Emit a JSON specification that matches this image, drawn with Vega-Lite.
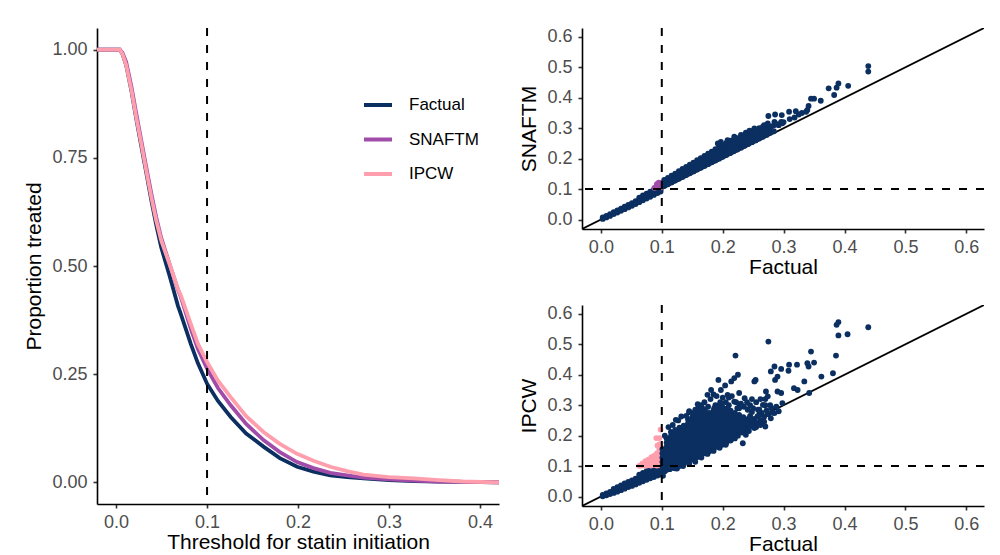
{
"$schema": "https://vega.github.io/schema/vega-lite/v6.json",
"background": "white",
"padding": {"left": 23, "top": 27, "right": 0, "bottom": 0},
"spacing": 19,
"config": {
  "view": {"stroke": null},
  "font": "Liberation Sans",
  "axis": {"domainColor": "black", "domainWidth": 1.6, "tickColor": "#333333", "tickWidth": 1.6, "tickSize": 4, "labelPadding": 6, "labelFont": "Liberation Sans", "labelFontSize": 18, "labelColor": "#4d4d4d", "labelOverlap": false, "titleFont": "Liberation Sans", "titleFontSize": 21, "titleFontWeight": "normal", "titleColor": "black", "grid": false},
  "axisX": {"titlePadding": 0, "labelPadding": 5},
  "axisY": {"titlePadding": 7}
},
"datasets": {
  "curves": [
    {"t":-0.021,"p":1,"m":"Factual"},{"t":0.004,"p":1,"m":"Factual"},{"t":0.007,"p":0.99,"m":"Factual"},{"t":0.011,"p":0.965,"m":"Factual"},{"t":0.0168,"p":0.905,"m":"Factual"},{"t":0.0222,"p":0.84,"m":"Factual"},{"t":0.0277,"p":0.777,"m":"Factual"},{"t":0.0332,"p":0.715,"m":"Factual"},{"t":0.0387,"p":0.652,"m":"Factual"},{"t":0.0441,"p":0.595,"m":"Factual"},{"t":0.0496,"p":0.543,"m":"Factual"},{"t":0.0587,"p":0.478,"m":"Factual"},{"t":0.068,"p":0.408,"m":"Factual"},{"t":0.0712,"p":0.389,"m":"Factual"},{"t":0.0821,"p":0.32,"m":"Factual"},{"t":0.09,"p":0.275,"m":"Factual"},{"t":0.1,"p":0.228,"m":"Factual"},{"t":0.112,"p":0.188,"m":"Factual"},{"t":0.126,"p":0.151,"m":"Factual"},{"t":0.143,"p":0.113,"m":"Factual"},{"t":0.1624,"p":0.082,"m":"Factual"},{"t":0.18,"p":0.056,"m":"Factual"},{"t":0.199,"p":0.036,"m":"Factual"},{"t":0.217,"p":0.025,"m":"Factual"},{"t":0.2355,"p":0.016,"m":"Factual"},{"t":0.254,"p":0.012,"m":"Factual"},{"t":0.272,"p":0.009,"m":"Factual"},{"t":0.3,"p":0.005,"m":"Factual"},{"t":0.327,"p":0.003,"m":"Factual"},{"t":0.355,"p":0.002,"m":"Factual"},{"t":0.381,"p":0.001,"m":"Factual"},{"t":0.421,"p":0,"m":"Factual"},
    {"t":-0.021,"p":1,"m":"SNAFTM"},{"t":0.004,"p":1,"m":"SNAFTM"},{"t":0.007,"p":0.993,"m":"SNAFTM"},{"t":0.011,"p":0.972,"m":"SNAFTM"},{"t":0.0168,"p":0.915,"m":"SNAFTM"},{"t":0.0222,"p":0.852,"m":"SNAFTM"},{"t":0.0277,"p":0.79,"m":"SNAFTM"},{"t":0.0332,"p":0.728,"m":"SNAFTM"},{"t":0.0387,"p":0.668,"m":"SNAFTM"},{"t":0.0441,"p":0.613,"m":"SNAFTM"},{"t":0.0496,"p":0.565,"m":"SNAFTM"},{"t":0.0587,"p":0.505,"m":"SNAFTM"},{"t":0.068,"p":0.445,"m":"SNAFTM"},{"t":0.0712,"p":0.428,"m":"SNAFTM"},{"t":0.0821,"p":0.355,"m":"SNAFTM"},{"t":0.09,"p":0.308,"m":"SNAFTM"},{"t":0.1,"p":0.263,"m":"SNAFTM"},{"t":0.112,"p":0.218,"m":"SNAFTM"},{"t":0.126,"p":0.178,"m":"SNAFTM"},{"t":0.143,"p":0.135,"m":"SNAFTM"},{"t":0.1624,"p":0.097,"m":"SNAFTM"},{"t":0.18,"p":0.07,"m":"SNAFTM"},{"t":0.199,"p":0.047,"m":"SNAFTM"},{"t":0.217,"p":0.033,"m":"SNAFTM"},{"t":0.2355,"p":0.022,"m":"SNAFTM"},{"t":0.254,"p":0.016,"m":"SNAFTM"},{"t":0.272,"p":0.011,"m":"SNAFTM"},{"t":0.3,"p":0.007,"m":"SNAFTM"},{"t":0.327,"p":0.004,"m":"SNAFTM"},{"t":0.355,"p":0.002,"m":"SNAFTM"},{"t":0.381,"p":0.001,"m":"SNAFTM"},{"t":0.421,"p":0,"m":"SNAFTM"},
    {"t":-0.021,"p":1,"m":"IPCW"},{"t":0.004,"p":1,"m":"IPCW"},{"t":0.007,"p":0.99,"m":"IPCW"},{"t":0.011,"p":0.965,"m":"IPCW"},{"t":0.0168,"p":0.907,"m":"IPCW"},{"t":0.0222,"p":0.843,"m":"IPCW"},{"t":0.0277,"p":0.782,"m":"IPCW"},{"t":0.0332,"p":0.72,"m":"IPCW"},{"t":0.0387,"p":0.659,"m":"IPCW"},{"t":0.0441,"p":0.605,"m":"IPCW"},{"t":0.0496,"p":0.559,"m":"IPCW"},{"t":0.0587,"p":0.505,"m":"IPCW"},{"t":0.068,"p":0.447,"m":"IPCW"},{"t":0.0712,"p":0.432,"m":"IPCW"},{"t":0.0821,"p":0.366,"m":"IPCW"},{"t":0.09,"p":0.32,"m":"IPCW"},{"t":0.1,"p":0.278,"m":"IPCW"},{"t":0.112,"p":0.235,"m":"IPCW"},{"t":0.126,"p":0.197,"m":"IPCW"},{"t":0.143,"p":0.153,"m":"IPCW"},{"t":0.1624,"p":0.116,"m":"IPCW"},{"t":0.18,"p":0.089,"m":"IPCW"},{"t":0.199,"p":0.066,"m":"IPCW"},{"t":0.217,"p":0.05,"m":"IPCW"},{"t":0.2355,"p":0.036,"m":"IPCW"},{"t":0.254,"p":0.026,"m":"IPCW"},{"t":0.272,"p":0.018,"m":"IPCW"},{"t":0.3,"p":0.012,"m":"IPCW"},{"t":0.327,"p":0.009,"m":"IPCW"},{"t":0.355,"p":0.005,"m":"IPCW"},{"t":0.381,"p":0.002,"m":"IPCW"},{"t":0.421,"p":0,"m":"IPCW"}
  ],
  "snaftm": [
    {"f":0.003,"v":0.002},{"f":0.003,"v":0.007},{"f":0.009,"v":0.007},{"f":0.009,"v":0.012},{"f":0.015,"v":0.012},{"f":0.015,"v":0.018},{"f":0.021,"v":0.018},{"f":0.021,"v":0.024},{"f":0.027,"v":0.023},{"f":0.027,"v":0.03},{"f":0.033,"v":0.029},{"f":0.033,"v":0.036},{"f":0.039,"v":0.034},{"f":0.039,"v":0.042},{"f":0.045,"v":0.04},{"f":0.045,"v":0.048},{"f":0.051,"v":0.045},{"f":0.051,"v":0.054},{"f":0.057,"v":0.051},{"f":0.057,"v":0.06},{"f":0.063,"v":0.057},{"f":0.063,"v":0.066},{"f":0.063,"v":0.072},{"f":0.069,"v":0.063},{"f":0.069,"v":0.072},{"f":0.069,"v":0.079},{"f":0.075,"v":0.069},{"f":0.075,"v":0.078},{"f":0.075,"v":0.085},{"f":0.081,"v":0.075},{"f":0.081,"v":0.084},{"f":0.081,"v":0.092},{"f":0.087,"v":0.081},{"f":0.087,"v":0.09},{"f":0.087,"v":0.098},{"f":0.093,"v":0.087},{"f":0.093,"v":0.095},{"f":0.093,"v":0.099},{"f":0.098,"v":0.092},{"f":0.098,"v":0.099},
    {"f":0.088,"v":0.104},{"f":0.091,"v":0.108},{"f":0.094,"v":0.111},{"f":0.097,"v":0.115},{"f":0.099,"v":0.12},{"f":0.092,"v":0.116},{"f":0.096,"v":0.107},{"f":0.099,"v":0.106},{"f":0.095,"v":0.121},
    {"f":0.104,"v":0.11},{"f":0.104,"v":0.12},{"f":0.104,"v":0.13},{"f":0.11,"v":0.116},{"f":0.11,"v":0.126},{"f":0.11,"v":0.137},{"f":0.116,"v":0.122},{"f":0.116,"v":0.133},{"f":0.116,"v":0.144},{"f":0.122,"v":0.128},{"f":0.122,"v":0.139},{"f":0.122,"v":0.151},{"f":0.128,"v":0.134},{"f":0.128,"v":0.146},{"f":0.128,"v":0.159},{"f":0.134,"v":0.14},{"f":0.134,"v":0.153},{"f":0.134,"v":0.166},{"f":0.14,"v":0.146},{"f":0.14,"v":0.159},{"f":0.14,"v":0.173},{"f":0.146,"v":0.152},{"f":0.146,"v":0.166},{"f":0.146,"v":0.18},{"f":0.152,"v":0.158},{"f":0.152,"v":0.172},{"f":0.152,"v":0.187},{"f":0.158,"v":0.164},{"f":0.158,"v":0.179},{"f":0.158,"v":0.195},
    {"f":0.164,"v":0.17},{"f":0.164,"v":0.181},{"f":0.164,"v":0.192},{"f":0.164,"v":0.202},{"f":0.17,"v":0.176},{"f":0.17,"v":0.187},{"f":0.17,"v":0.198},{"f":0.17,"v":0.209},{"f":0.176,"v":0.182},{"f":0.176,"v":0.193},{"f":0.176,"v":0.205},{"f":0.176,"v":0.216},{"f":0.182,"v":0.188},{"f":0.182,"v":0.2},{"f":0.182,"v":0.211},{"f":0.182,"v":0.223},{"f":0.188,"v":0.194},{"f":0.188,"v":0.206},{"f":0.188,"v":0.218},{"f":0.188,"v":0.231},{"f":0.194,"v":0.2},{"f":0.194,"v":0.213},{"f":0.194,"v":0.225},{"f":0.194,"v":0.238},{"f":0.2,"v":0.206},{"f":0.2,"v":0.219},{"f":0.2,"v":0.232},{"f":0.2,"v":0.245},{"f":0.206,"v":0.212},{"f":0.206,"v":0.225},{"f":0.206,"v":0.239},{"f":0.206,"v":0.252},{"f":0.212,"v":0.218},{"f":0.212,"v":0.232},{"f":0.212,"v":0.245},{"f":0.212,"v":0.259},{"f":0.218,"v":0.224},{"f":0.218,"v":0.237},{"f":0.218,"v":0.25},{"f":0.218,"v":0.262},{"f":0.224,"v":0.23},{"f":0.224,"v":0.242},{"f":0.224,"v":0.255},{"f":0.224,"v":0.267},{"f":0.23,"v":0.236},{"f":0.23,"v":0.248},{"f":0.23,"v":0.26},{"f":0.23,"v":0.272},{"f":0.236,"v":0.242},{"f":0.236,"v":0.254},{"f":0.236,"v":0.266},{"f":0.236,"v":0.278},{"f":0.242,"v":0.248},{"f":0.242,"v":0.26},{"f":0.242,"v":0.272},{"f":0.242,"v":0.284},{"f":0.248,"v":0.254},{"f":0.248,"v":0.266},{"f":0.248,"v":0.278},{"f":0.248,"v":0.29},
    {"f":0.254,"v":0.26},{"f":0.254,"v":0.277},{"f":0.254,"v":0.294},{"f":0.26,"v":0.266},{"f":0.26,"v":0.283},{"f":0.26,"v":0.3},{"f":0.266,"v":0.272},{"f":0.266,"v":0.288},{"f":0.266,"v":0.305},{"f":0.272,"v":0.278},{"f":0.272,"v":0.294},{"f":0.272,"v":0.31},{"f":0.278,"v":0.285},{"f":0.278,"v":0.301},{"f":0.284,"v":0.29},{"f":0.284,"v":0.31},{"f":0.292,"v":0.31},{"f":0.3,"v":0.32},{"f":0.31,"v":0.33},{"f":0.318,"v":0.335},{"f":0.325,"v":0.345},{"f":0.33,"v":0.35},
    {"f":0.439,"v":0.504},{"f":0.439,"v":0.486},{"f":0.406,"v":0.439},{"f":0.39,"v":0.447},{"f":0.387,"v":0.433},{"f":0.383,"v":0.409},{"f":0.374,"v":0.431},{"f":0.361,"v":0.39},{"f":0.35,"v":0.397},{"f":0.345,"v":0.397},{"f":0.341,"v":0.373},{"f":0.339,"v":0.36},{"f":0.337,"v":0.354},{"f":0.32,"v":0.356},{"f":0.309,"v":0.354},{"f":0.297,"v":0.343},{"f":0.296,"v":0.321},{"f":0.286,"v":0.345},{"f":0.275,"v":0.34},{"f":0.285,"v":0.321},{"f":0.289,"v":0.313},{"f":0.279,"v":0.305},{"f":0.271,"v":0.294},{"f":0.263,"v":0.288},{"f":0.257,"v":0.294},{"f":0.255,"v":0.277},{"f":0.252,"v":0.299},{"f":0.274,"v":0.316},{"f":0.298,"v":0.316},{"f":0.268,"v":0.31},{"f":0.238,"v":0.285},{"f":0.244,"v":0.292},{"f":0.23,"v":0.278},{"f":0.219,"v":0.272},{"f":0.208,"v":0.261},{"f":0.197,"v":0.255},{"f":0.192,"v":0.25}
  ],
  "ipcw": [
    {"f":0.003,"v":0.001},{"f":0.003,"v":0.005},{"f":0.009,"v":0.004},{"f":0.009,"v":0.01},{"f":0.015,"v":0.008},{"f":0.015,"v":0.015},{"f":0.021,"v":0.012},{"f":0.021,"v":0.019},{"f":0.021,"v":0.025},{"f":0.027,"v":0.016},{"f":0.027,"v":0.024},{"f":0.027,"v":0.031},{"f":0.033,"v":0.021},{"f":0.033,"v":0.029},{"f":0.033,"v":0.037},{"f":0.039,"v":0.026},{"f":0.039,"v":0.034},{"f":0.039,"v":0.043},{"f":0.045,"v":0.031},{"f":0.045,"v":0.039},{"f":0.045,"v":0.048},{"f":0.051,"v":0.035},{"f":0.051,"v":0.044},{"f":0.051,"v":0.053},{"f":0.057,"v":0.04},{"f":0.057,"v":0.049},{"f":0.057,"v":0.059},{"f":0.063,"v":0.045},{"f":0.063,"v":0.054},{"f":0.063,"v":0.064},{"f":0.063,"v":0.072},{"f":0.069,"v":0.05},{"f":0.069,"v":0.059},{"f":0.069,"v":0.069},{"f":0.069,"v":0.078},{"f":0.075,"v":0.055},{"f":0.075,"v":0.064},{"f":0.075,"v":0.074},{"f":0.075,"v":0.083},{"f":0.081,"v":0.06},{"f":0.081,"v":0.069},{"f":0.081,"v":0.079},{"f":0.081,"v":0.089},{"f":0.087,"v":0.064},{"f":0.087,"v":0.074},{"f":0.087,"v":0.084},{"f":0.087,"v":0.094},{"f":0.093,"v":0.069},{"f":0.093,"v":0.079},{"f":0.093,"v":0.089},{"f":0.093,"v":0.097},{"f":0.098,"v":0.073},{"f":0.098,"v":0.083},{"f":0.098,"v":0.092},{"f":0.098,"v":0.098},
    {"f":0.063,"v":0.101},{"f":0.067,"v":0.102},{"f":0.068,"v":0.108},{"f":0.072,"v":0.101},{"f":0.072,"v":0.11},{"f":0.073,"v":0.116},{"f":0.077,"v":0.103},{"f":0.077,"v":0.113},{"f":0.078,"v":0.121},{"f":0.082,"v":0.102},{"f":0.082,"v":0.112},{"f":0.082,"v":0.122},{"f":0.083,"v":0.129},{"f":0.087,"v":0.104},{"f":0.087,"v":0.114},{"f":0.087,"v":0.124},{"f":0.088,"v":0.134},{"f":0.092,"v":0.102},{"f":0.092,"v":0.112},{"f":0.092,"v":0.122},{"f":0.092,"v":0.132},{"f":0.092,"v":0.142},{"f":0.096,"v":0.105},{"f":0.096,"v":0.115},{"f":0.096,"v":0.125},{"f":0.096,"v":0.135},{"f":0.096,"v":0.145},{"f":0.096,"v":0.155},{"f":0.099,"v":0.102},{"f":0.099,"v":0.112},{"f":0.099,"v":0.122},{"f":0.099,"v":0.132},{"f":0.099,"v":0.142},{"f":0.099,"v":0.152},{"f":0.099,"v":0.162},{"f":0.091,"v":0.192},{"f":0.096,"v":0.192},{"f":0.098,"v":0.22},{"f":0.093,"v":0.168},{"f":0.097,"v":0.172},
    {"f":0.101,"v":0.086},{"f":0.105,"v":0.083},{"f":0.108,"v":0.088},{"f":0.113,"v":0.09},{"f":0.118,"v":0.094},{"f":0.125,"v":0.092},{"f":0.102,"v":0.068},
    {"f":0.101,"v":0.1},{"f":0.101,"v":0.114},{"f":0.101,"v":0.128},{"f":0.101,"v":0.142},{"f":0.101,"v":0.156},
    {"f":0.108,"v":0.093},{"f":0.108,"v":0.107},{"f":0.108,"v":0.121},{"f":0.108,"v":0.135},{"f":0.108,"v":0.149},{"f":0.108,"v":0.163},{"f":0.108,"v":0.177},{"f":0.108,"v":0.191},
    {"f":0.115,"v":0.1},{"f":0.115,"v":0.114},{"f":0.115,"v":0.128},{"f":0.115,"v":0.142},{"f":0.115,"v":0.156},{"f":0.115,"v":0.17},{"f":0.115,"v":0.184},{"f":0.115,"v":0.198},{"f":0.115,"v":0.212},
    {"f":0.122,"v":0.093},{"f":0.122,"v":0.107},{"f":0.122,"v":0.121},{"f":0.122,"v":0.135},{"f":0.122,"v":0.149},{"f":0.122,"v":0.163},{"f":0.122,"v":0.177},{"f":0.122,"v":0.191},{"f":0.122,"v":0.205},{"f":0.122,"v":0.219},
    {"f":0.129,"v":0.1},{"f":0.129,"v":0.114},{"f":0.129,"v":0.128},{"f":0.129,"v":0.142},{"f":0.129,"v":0.156},{"f":0.129,"v":0.17},{"f":0.129,"v":0.184},{"f":0.129,"v":0.198},{"f":0.129,"v":0.212},{"f":0.129,"v":0.226},
    {"f":0.136,"v":0.107},{"f":0.136,"v":0.121},{"f":0.136,"v":0.135},{"f":0.136,"v":0.149},{"f":0.136,"v":0.163},{"f":0.136,"v":0.177},{"f":0.136,"v":0.191},{"f":0.136,"v":0.205},{"f":0.136,"v":0.219},{"f":0.136,"v":0.233},
    {"f":0.143,"v":0.114},{"f":0.143,"v":0.128},{"f":0.143,"v":0.142},{"f":0.143,"v":0.156},{"f":0.143,"v":0.17},{"f":0.143,"v":0.184},{"f":0.143,"v":0.198},{"f":0.143,"v":0.212},{"f":0.143,"v":0.226},{"f":0.143,"v":0.24},{"f":0.143,"v":0.254},
    {"f":0.15,"v":0.121},{"f":0.15,"v":0.135},{"f":0.15,"v":0.149},{"f":0.15,"v":0.163},{"f":0.15,"v":0.177},{"f":0.15,"v":0.191},{"f":0.15,"v":0.205},{"f":0.15,"v":0.219},{"f":0.15,"v":0.233},{"f":0.15,"v":0.247},{"f":0.15,"v":0.261},
    {"f":0.157,"v":0.128},{"f":0.157,"v":0.142},{"f":0.157,"v":0.156},{"f":0.157,"v":0.17},{"f":0.157,"v":0.184},{"f":0.157,"v":0.198},{"f":0.157,"v":0.212},{"f":0.157,"v":0.226},{"f":0.157,"v":0.24},{"f":0.157,"v":0.254},{"f":0.157,"v":0.268},
    {"f":0.164,"v":0.135},{"f":0.164,"v":0.149},{"f":0.164,"v":0.163},{"f":0.164,"v":0.177},{"f":0.164,"v":0.191},{"f":0.164,"v":0.205},{"f":0.164,"v":0.219},{"f":0.164,"v":0.233},{"f":0.164,"v":0.247},{"f":0.164,"v":0.261},{"f":0.164,"v":0.275},
    {"f":0.171,"v":0.142},{"f":0.171,"v":0.156},{"f":0.171,"v":0.17},{"f":0.171,"v":0.184},{"f":0.171,"v":0.198},{"f":0.171,"v":0.212},{"f":0.171,"v":0.226},{"f":0.171,"v":0.24},{"f":0.171,"v":0.254},{"f":0.171,"v":0.268},{"f":0.171,"v":0.282},
    {"f":0.178,"v":0.149},{"f":0.178,"v":0.163},{"f":0.178,"v":0.177},{"f":0.178,"v":0.191},{"f":0.178,"v":0.205},{"f":0.178,"v":0.219},{"f":0.178,"v":0.233},{"f":0.178,"v":0.247},{"f":0.178,"v":0.261},{"f":0.178,"v":0.275},
    {"f":0.185,"v":0.156},{"f":0.185,"v":0.17},{"f":0.185,"v":0.184},{"f":0.185,"v":0.198},{"f":0.185,"v":0.212},{"f":0.185,"v":0.226},{"f":0.185,"v":0.24},{"f":0.185,"v":0.254},{"f":0.185,"v":0.268},{"f":0.185,"v":0.282},
    {"f":0.192,"v":0.163},{"f":0.192,"v":0.177},{"f":0.192,"v":0.191},{"f":0.192,"v":0.205},{"f":0.192,"v":0.219},{"f":0.192,"v":0.233},{"f":0.192,"v":0.247},{"f":0.192,"v":0.261},{"f":0.192,"v":0.275},{"f":0.192,"v":0.289},
    {"f":0.199,"v":0.17},{"f":0.199,"v":0.184},{"f":0.199,"v":0.198},{"f":0.199,"v":0.212},{"f":0.199,"v":0.226},{"f":0.199,"v":0.24},{"f":0.199,"v":0.254},{"f":0.199,"v":0.268},{"f":0.199,"v":0.282},{"f":0.199,"v":0.296},
    {"f":0.206,"v":0.177},{"f":0.206,"v":0.191},{"f":0.206,"v":0.205},{"f":0.206,"v":0.219},{"f":0.206,"v":0.233},{"f":0.206,"v":0.247},{"f":0.206,"v":0.261},{"f":0.206,"v":0.275},{"f":0.206,"v":0.289},
    {"f":0.213,"v":0.184},{"f":0.213,"v":0.198},{"f":0.213,"v":0.212},{"f":0.213,"v":0.226},{"f":0.213,"v":0.24},{"f":0.213,"v":0.254},{"f":0.213,"v":0.268},{"f":0.213,"v":0.282},
    {"f":0.22,"v":0.191},{"f":0.22,"v":0.205},{"f":0.22,"v":0.219},{"f":0.22,"v":0.233},{"f":0.22,"v":0.247},{"f":0.22,"v":0.261},{"f":0.22,"v":0.275},
    {"f":0.227,"v":0.212},{"f":0.227,"v":0.226},{"f":0.227,"v":0.24},{"f":0.227,"v":0.254},{"f":0.227,"v":0.268},
    {"f":0.234,"v":0.219},{"f":0.234,"v":0.233},{"f":0.234,"v":0.247},{"f":0.234,"v":0.261},
    {"f":0.241,"v":0.226},{"f":0.241,"v":0.24},{"f":0.241,"v":0.254},
    {"f":0.105,"v":0.2},{"f":0.111,"v":0.228},{"f":0.118,"v":0.235},{"f":0.127,"v":0.25},{"f":0.14,"v":0.265},{"f":0.145,"v":0.28},{"f":0.155,"v":0.285},{"f":0.16,"v":0.29},{"f":0.165,"v":0.3},{"f":0.17,"v":0.31},{"f":0.18,"v":0.32},{"f":0.185,"v":0.335},{"f":0.19,"v":0.33},{"f":0.2,"v":0.325},{"f":0.21,"v":0.325},{"f":0.215,"v":0.33},{"f":0.222,"v":0.31},{"f":0.23,"v":0.305},{"f":0.245,"v":0.3},{"f":0.25,"v":0.29},{"f":0.255,"v":0.31},{"f":0.26,"v":0.27},{"f":0.27,"v":0.3},{"f":0.28,"v":0.29},{"f":0.245,"v":0.25},{"f":0.25,"v":0.24},{"f":0.24,"v":0.24},{"f":0.238,"v":0.22},{"f":0.232,"v":0.21},{"f":0.225,"v":0.2},{"f":0.215,"v":0.19},{"f":0.205,"v":0.17},{"f":0.195,"v":0.16},{"f":0.185,"v":0.15},{"f":0.175,"v":0.14},{"f":0.165,"v":0.128},{"f":0.155,"v":0.114},{"f":0.145,"v":0.108},{"f":0.135,"v":0.1},
    {"f":0.245,"v":0.265},{"f":0.248,"v":0.278},{"f":0.252,"v":0.255},{"f":0.256,"v":0.242},{"f":0.258,"v":0.285},{"f":0.262,"v":0.25},{"f":0.264,"v":0.275},{"f":0.268,"v":0.262},{"f":0.272,"v":0.283},{"f":0.275,"v":0.27},{"f":0.278,"v":0.3},{"f":0.282,"v":0.275},{"f":0.288,"v":0.295},{"f":0.292,"v":0.28},{"f":0.262,"v":0.32},{"f":0.27,"v":0.32},{"f":0.248,"v":0.32},{"f":0.24,"v":0.31},{"f":0.235,"v":0.295},{"f":0.228,"v":0.3},{"f":0.224,"v":0.29},{"f":0.21,"v":0.3},{"f":0.205,"v":0.31},{"f":0.196,"v":0.31},{"f":0.188,"v":0.3},{"f":0.176,"v":0.295},{"f":0.168,"v":0.288},{"f":0.16,"v":0.278},{"f":0.152,"v":0.275},{"f":0.248,"v":0.235},{"f":0.243,"v":0.215},{"f":0.255,"v":0.228},{"f":0.262,"v":0.235},{"f":0.27,"v":0.23},
    {"f":0.39,"v":0.573},{"f":0.387,"v":0.564},{"f":0.39,"v":0.529},{"f":0.405,"v":0.533},{"f":0.439,"v":0.556},{"f":0.275,"v":0.509},{"f":0.221,"v":0.463},{"f":0.386,"v":0.463},{"f":0.345,"v":0.476},{"f":0.339,"v":0.438},{"f":0.35,"v":0.44},{"f":0.341,"v":0.427},{"f":0.322,"v":0.433},{"f":0.309,"v":0.433},{"f":0.308,"v":0.413},{"f":0.296,"v":0.419},{"f":0.285,"v":0.427},{"f":0.279,"v":0.411},{"f":0.286,"v":0.383},{"f":0.29,"v":0.394},{"f":0.362,"v":0.394},{"f":0.381,"v":0.405},{"f":0.334,"v":0.378},{"f":0.317,"v":0.356},{"f":0.323,"v":0.35},{"f":0.342,"v":0.34},{"f":0.296,"v":0.34},{"f":0.29,"v":0.345},{"f":0.271,"v":0.345},{"f":0.274,"v":0.329},{"f":0.298,"v":0.307},{"f":0.285,"v":0.274},{"f":0.279,"v":0.257},{"f":0.266,"v":0.301},{"f":0.26,"v":0.285},{"f":0.252,"v":0.378},{"f":0.254,"v":0.383},{"f":0.225,"v":0.4},{"f":0.219,"v":0.389},{"f":0.214,"v":0.378},{"f":0.193,"v":0.383},{"f":0.197,"v":0.35},{"f":0.204,"v":0.365},{"f":0.208,"v":0.334},{"f":0.181,"v":0.35},{"f":0.175,"v":0.334},{"f":0.159,"v":0.303},{"f":0.145,"v":0.277},{"f":0.132,"v":0.263},{"f":0.123,"v":0.252},{"f":0.219,"v":0.192},{"f":0.233,"v":0.175},{"f":0.246,"v":0.23},{"f":0.252,"v":0.225},{"f":0.244,"v":0.257},{"f":0.241,"v":0.285},{"f":0.236,"v":0.323},{"f":0.227,"v":0.34},{"f":0.195,"v":0.301},{"f":0.186,"v":0.29},{"f":0.219,"v":0.312},{"f":0.227,"v":0.29},{"f":0.257,"v":0.263},{"f":0.268,"v":0.246},{"f":0.234,"v":0.225},{"f":0.238,"v":0.203},{"f":0.113,"v":0.093},{"f":0.132,"v":0.11},{"f":0.151,"v":0.137}
  ],
  "diag": [{"a": -0.05, "b": 0.7}],
  "thr": [{"v": 0.1}]
},
"hconcat": [
  {
    "width": 402, "height": 476,
    "layer": [
      {
        "data": {"name": "curves"},
        "mark": {"type": "line", "strokeWidth": 3.8, "clip": true},
        "encoding": {
          "x": {"field": "t", "type": "quantitative", "title": "Threshold for statin initiation", "scale": {"domain": [-0.021, 0.421], "nice": false, "zero": false}, "axis": {"values": [0, 0.1, 0.2, 0.3, 0.4], "format": ".1f"}},
          "y": {"field": "p", "type": "quantitative", "title": "Proportion treated", "scale": {"domain": [-0.05, 1.05], "nice": false, "zero": false}, "axis": {"values": [0, 0.25, 0.5, 0.75, 1], "format": ".2f"}},
          "color": {"field": "m", "type": "nominal", "sort": ["Factual", "SNAFTM", "IPCW"], "scale": {"domain": ["Factual", "SNAFTM", "IPCW"], "range": ["#0b2f60", "#a14ca9", "#ff9eac"]},
            "legend": {"title": null, "orient": "none", "legendX": 265, "legendY": 61, "symbolType": "stroke", "symbolSize": 784, "symbolStrokeWidth": 4, "labelFont": "Liberation Sans", "labelFontSize": 17, "labelColor": "black", "labelOffset": 15, "rowPadding": 10.5, "padding": 0}}
        }
      },
      {
        "data": {"name": "thr"},
        "mark": {"type": "rule", "color": "black", "strokeWidth": 2, "strokeDash": [8, 9]},
        "encoding": {"x": {"field": "v", "type": "quantitative", "title": "Threshold for statin initiation"}}
      }
    ]
  },
  {
    "spacing": 27,
    "vconcat": [
      {
        "width": 402, "height": 201,
        "layer": [
          {
            "data": {"name": "diag"},
            "mark": {"type": "rule", "color": "black", "strokeWidth": 1.8, "clip": true},
            "encoding": {
              "x": {"field": "a", "type": "quantitative", "title": "Factual", "scale": {"domain": [-0.031, 0.629], "nice": false, "zero": false}, "axis": {"values": [0, 0.1, 0.2, 0.3, 0.4, 0.5, 0.6], "tickCount": 7, "format": ".1f", "labelOverlap": false}},
              "y": {"field": "a", "type": "quantitative", "title": "SNAFTM", "scale": {"domain": [-0.031, 0.629], "nice": false, "zero": false}, "axis": {"values": [0, 0.1, 0.2, 0.3, 0.4, 0.5, 0.6], "tickCount": 7, "format": ".1f", "labelOverlap": false}},
              "x2": {"field": "b"}, "y2": {"field": "b"}}
          },
          {
            "data": {"name": "snaftm"},
            "mark": {"type": "circle", "size": 34, "opacity": 1},
            "encoding": {
              "x": {"field": "f", "type": "quantitative", "title": "Factual", "axis": {"values": [0, 0.1, 0.2, 0.3, 0.4, 0.5, 0.6], "tickCount": 7, "format": ".1f", "labelOverlap": false}},
              "y": {"field": "v", "type": "quantitative", "title": "SNAFTM", "axis": {"values": [0, 0.1, 0.2, 0.3, 0.4, 0.5, 0.6], "tickCount": 7, "format": ".1f", "labelOverlap": false}},
              "color": {"condition": {"test": "datum.f < 0.1 && datum.v >= 0.1", "value": "#a14ca9"}, "value": "#0b2f60"}
            }
          },
          {
            "data": {"name": "thr"},
            "mark": {"type": "rule", "color": "black", "strokeWidth": 2, "strokeDash": [8, 9]},
            "encoding": {"x": {"field": "v", "type": "quantitative", "title": "Factual", "axis": {"values": [0, 0.1, 0.2, 0.3, 0.4, 0.5, 0.6], "tickCount": 7, "format": ".1f", "labelOverlap": false}}}
          },
          {
            "data": {"name": "thr"},
            "mark": {"type": "rule", "color": "black", "strokeWidth": 2, "strokeDash": [8, 9]},
            "encoding": {"y": {"field": "v", "type": "quantitative", "title": "SNAFTM", "axis": {"values": [0, 0.1, 0.2, 0.3, 0.4, 0.5, 0.6], "tickCount": 7, "format": ".1f", "labelOverlap": false}}}
          }
        ]
      },
      {
        "width": 402, "height": 201,
        "layer": [
          {
            "data": {"name": "diag"},
            "mark": {"type": "rule", "color": "black", "strokeWidth": 1.8, "clip": true},
            "encoding": {
              "x": {"field": "a", "type": "quantitative", "title": "Factual", "scale": {"domain": [-0.031, 0.629], "nice": false, "zero": false}, "axis": {"values": [0, 0.1, 0.2, 0.3, 0.4, 0.5, 0.6], "tickCount": 7, "format": ".1f", "labelOverlap": false}},
              "y": {"field": "a", "type": "quantitative", "title": "IPCW", "scale": {"domain": [-0.031, 0.629], "nice": false, "zero": false}, "axis": {"values": [0, 0.1, 0.2, 0.3, 0.4, 0.5, 0.6], "tickCount": 7, "format": ".1f", "labelOverlap": false}},
              "x2": {"field": "b"}, "y2": {"field": "b"}}
          },
          {
            "data": {"name": "ipcw"},
            "mark": {"type": "circle", "size": 34, "opacity": 1},
            "encoding": {
              "x": {"field": "f", "type": "quantitative", "title": "Factual", "axis": {"values": [0, 0.1, 0.2, 0.3, 0.4, 0.5, 0.6], "tickCount": 7, "format": ".1f", "labelOverlap": false}},
              "y": {"field": "v", "type": "quantitative", "title": "IPCW", "axis": {"values": [0, 0.1, 0.2, 0.3, 0.4, 0.5, 0.6], "tickCount": 7, "format": ".1f", "labelOverlap": false}},
              "color": {"condition": {"test": "datum.f < 0.1 && datum.v >= 0.1", "value": "#ff9eac"}, "value": "#0b2f60"}
            }
          },
          {
            "data": {"name": "thr"},
            "mark": {"type": "rule", "color": "black", "strokeWidth": 2, "strokeDash": [8, 9]},
            "encoding": {"x": {"field": "v", "type": "quantitative", "title": "Factual", "axis": {"values": [0, 0.1, 0.2, 0.3, 0.4, 0.5, 0.6], "tickCount": 7, "format": ".1f", "labelOverlap": false}}}
          },
          {
            "data": {"name": "thr"},
            "mark": {"type": "rule", "color": "black", "strokeWidth": 2, "strokeDash": [8, 9]},
            "encoding": {"y": {"field": "v", "type": "quantitative", "title": "IPCW", "axis": {"values": [0, 0.1, 0.2, 0.3, 0.4, 0.5, 0.6], "tickCount": 7, "format": ".1f", "labelOverlap": false}}}
          }
        ]
      }
    ]
  }
]
}
